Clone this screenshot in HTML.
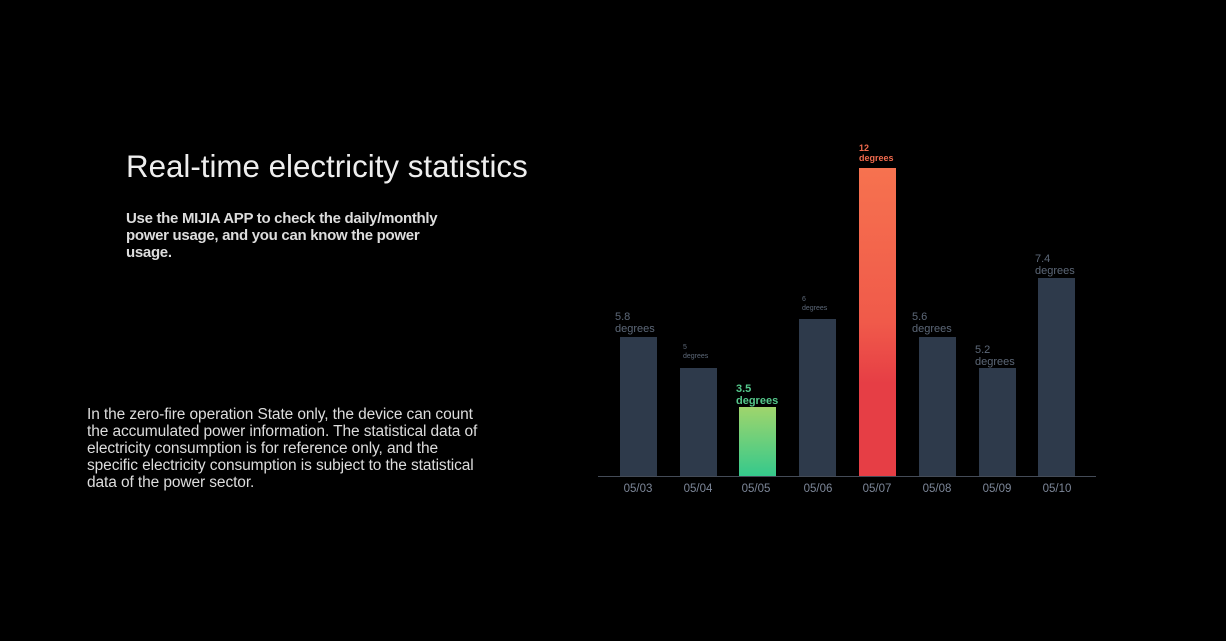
<!DOCTYPE html>
<html><head><meta charset="utf-8"><style>
body{margin:0;width:1226px;height:641px;background:#000;overflow:hidden;position:relative;font-family:"Liberation Sans","DejaVu Sans",sans-serif}
.t{position:absolute;color:#eee}
.bar{position:absolute;width:37px;bottom:165px;background:#2e3a4b}
.lab{position:absolute;font-size:11px;color:#5d6878;line-height:12px}
.x{position:absolute;top:483px;font-size:11.5px;color:#7d8799;width:50px;text-align:center}
</style></head><body>
<div class="t" style="left:126px;top:149px;font-size:31.3px">Real-time electricity statistics</div>
<div class="t" style="left:126px;top:210px;font-size:15px;line-height:17px;color:#ddd;width:325px;font-weight:bold;letter-spacing:-0.3px">Use the MIJIA APP to check the daily/monthly power usage, and you can know the power usage.</div>
<div class="t" style="left:87px;top:406px;font-size:15.5px;line-height:17px;color:#ddd;width:402px;letter-spacing:-0.1px">In the zero-fire operation State only, the device can count the accumulated power information. The statistical data of electricity consumption is for reference only, and the specific electricity consumption is subject to the statistical data of the power sector.</div>

<div class="bar" style="left:620px;top:337px"></div>
<div class="bar" style="left:680px;top:368px"></div>
<div class="bar" style="left:739px;top:407px;background:linear-gradient(#9fd56c,#35c98c)"></div>
<div class="bar" style="left:799px;top:319px"></div>
<div class="bar" style="left:859px;top:168px;background:linear-gradient(#f6724f 0%,#f05a4a 50%,#e63e45 70%,#e63e45)"></div>
<div class="bar" style="left:919px;top:337px"></div>
<div class="bar" style="left:979px;top:368px"></div>
<div class="bar" style="left:1038px;top:278px"></div>
<div style="position:absolute;left:598px;top:476px;width:498px;height:1px;background:#444b57"></div>

<div class="lab" style="left:615px;top:311px">5.8<br>degrees</div>
<div class="lab" style="left:683px;top:343px;font-size:7px;line-height:9px">5<br>degrees</div>
<div class="lab" style="left:736px;top:383px;color:#55c98c;font-weight:bold">3.5<br>degrees</div>
<div class="lab" style="left:802px;top:295px;font-size:7px;line-height:9px">6<br>degrees</div>
<div class="lab" style="left:859px;top:143px;color:#f06a4d;font-size:9px;line-height:10px;font-weight:bold">12<br>degrees</div>
<div class="lab" style="left:912px;top:311px">5.6<br>degrees</div>
<div class="lab" style="left:975px;top:344px">5.2<br>degrees</div>
<div class="lab" style="left:1035px;top:253px">7.4<br>degrees</div>

<div class="x" style="left:613px">05/03</div>
<div class="x" style="left:673px">05/04</div>
<div class="x" style="left:731px">05/05</div>
<div class="x" style="left:793px">05/06</div>
<div class="x" style="left:852px">05/07</div>
<div class="x" style="left:912px">05/08</div>
<div class="x" style="left:972px">05/09</div>
<div class="x" style="left:1032px">05/10</div>
</body></html>
